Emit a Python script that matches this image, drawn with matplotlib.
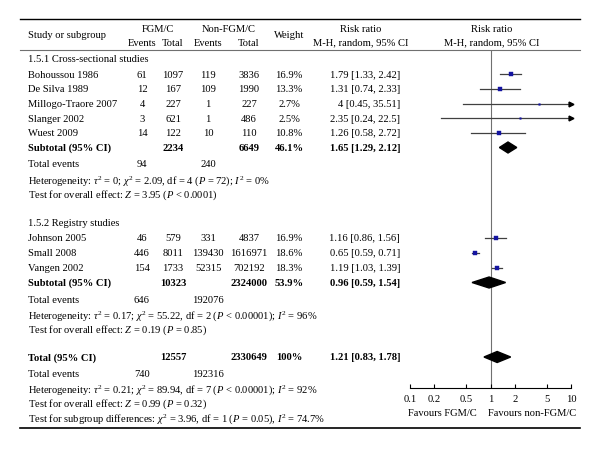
import matplotlib
matplotlib.use("Agg")
import matplotlib.pyplot as plt

plt.rcParams['font.family'] = ['Liberation Serif', 'DejaVu Serif']
plt.rcParams['mathtext.fontset'] = 'custom'
plt.rcParams['mathtext.rm'] = 'Liberation Serif'
plt.rcParams['mathtext.it'] = 'Liberation Serif:italic'
plt.rcParams['mathtext.bf'] = 'Liberation Serif:bold'

# ---------------- data ----------------
studies1 = ['Bohoussou 1986', 'De Silva 1989', 'Millogo-Traore 2007', 'Slanger 2002', 'Wuest 2009']
ev1 = [61, 12, 4, 3, 14]
tot1 = [1097, 167, 227, 621, 122]
nev1 = [119, 109, 1, 1, 10]
ntot1 = [3836, 1990, 227, 486, 110]
w1 = [16.9, 13.3, 2.7, 2.5, 10.8]
rr1 = [1.79, 1.31, 4, 2.35, 1.26]
lo1 = [1.33, 0.74, 0.45, 0.24, 0.58]
hi1 = [2.42, 2.33, 35.51, 22.5, 2.72]
sub1 = dict(tot=2234, ntot=6649, w=46.1, rr=1.65, lo=1.29, hi=2.12, ev=94, nev=240)

studies2 = ['Johnson 2005', 'Small 2008', 'Vangen 2002']
ev2 = [46, 446, 154]
tot2 = [579, 8011, 1733]
nev2 = [331, 139430, 52315]
ntot2 = [4837, 1616971, 702192]
w2 = [16.9, 18.6, 18.3]
rr2 = [1.16, 0.65, 1.19]
lo2 = [0.86, 0.59, 1.03]
hi2 = [1.56, 0.71, 1.39]
sub2 = dict(tot=10323, ntot=2324000, w=53.9, rr=0.96, lo=0.59, hi=1.54, ev=646, nev=192076)

total = dict(tot=12557, ntot=2330649, w=100, rr=1.21, lo=0.83, hi=1.78, ev=740, nev=192316)

het1 = r'Heterogeneity: $\tau^2$ = 0; $\chi^2$ = 2.09, df = 4 ($P$ = 72); $I^2$ = 0%'
eff1 = r'Test for overall effect: $Z$ = 3.95 ($P$ < 0.0001)'
het2 = r'Heterogeneity: $\tau^2$ = 0.17; $\chi^2$ = 55.22, df = 2 ($P$ < 0.00001); $I^2$ = 96%'
eff2 = r'Test for overall effect: $Z$ = 0.19 ($P$ = 0.85)'
het3 = r'Heterogeneity: $\tau^2$ = 0.21; $\chi^2$ = 89.94, df = 7 ($P$ < 0.00001); $I^2$ = 92%'
eff3 = r'Test for overall effect: $Z$ = 0.99 ($P$ = 0.32)'
subdiff = r'Test for subgroup differences: $\chi^2$ = 3.96, df = 1 ($P$ = 0.05), $I^2$ = 74.7%'

ticks = [0.1, 0.2, 0.5, 1, 2, 5, 10]
tick_labels = ['0.1', '0.2', '0.5', '1', '2', '5', '10']

# ---------------- layout ----------------
FS = 7.6
BLUE = '#1414a0'
W, H = 600, 452
fig = plt.figure(figsize=(6, 4.52), dpi=100)
bg = fig.add_axes([0, 0, 1, 1])
bg.set_xlim(0, W)
bg.set_ylim(H, 0)
bg.axis('off')

AX_TOP, AX_BOT, AX_L, AX_R = 51, 389, 410, 571
ax = fig.add_axes([AX_L / W, (H - AX_BOT) / H, (AX_R - AX_L) / W, (AX_BOT - AX_TOP) / H])
ax.set_xscale('log')
ax.set_xlim(0.1, 10)
ax.set_ylim(AX_BOT, AX_TOP)
ax.patch.set_alpha(0)
for s in ['top', 'left', 'right']:
    ax.spines[s].set_visible(False)
ax.spines['bottom'].set_linewidth(0.8)
ax.set_yticks([])
ax.set_xticks(ticks)
ax.set_xticklabels(tick_labels)
ax.minorticks_off()
ax.tick_params(axis='x', direction='in', length=3, width=0.8, pad=4, labelsize=FS)
ax.axvline(1, color='#707070', lw=0.8, zorder=1)

X_STUDY, X_EV, X_TOT, X_NEV, X_NTOT, X_W, X_CI = 28, 142, 173, 208, 249, 289, 400


def txt(x, y, s, ha='left', bold=False, size=FS):
    bg.text(x, y, s, ha=ha, va='center', fontsize=size,
            fontweight='bold' if bold else 'normal')


def ci_str(r, l, h):
    return f'{r:g} [{l:g}, {h:g}]'


# header
bg.plot([20, 580], [20, 20], color='black', lw=1.0)
bg.plot([20, 580], [51, 51], color='#707070', lw=0.8)
bg.plot([20, 580], [429, 429], color='black', lw=1.2)
txt(X_STUDY, 36, 'Study or subgroup')
txt((X_EV + X_TOT) / 2, 30, 'FGM/C', ha='center')
txt(X_EV, 43, 'Events', ha='center')
txt(X_TOT, 43, 'Total', ha='center')
txt((X_NEV + X_NTOT) / 2, 30, 'Non-FGM/C', ha='center')
txt(X_NEV, 43, 'Events', ha='center')
txt(X_NTOT, 43, 'Total', ha='center')
txt(X_W, 36, 'Weight', ha='center')
txt(361, 30, 'Risk ratio', ha='center')
txt(361, 43, 'M-H, random, 95% CI', ha='center')
txt(492, 30, 'Risk ratio', ha='center')
txt(492, 43, 'M-H, random, 95% CI', ha='center')


def study_rows(names, ev, tot, nev, ntot, w, rr, lo, hi, ys):
    for i, y in enumerate(ys):
        txt(X_STUDY, y, names[i])
        txt(X_EV, y, str(ev[i]), ha='center')
        txt(X_TOT, y, str(tot[i]), ha='center')
        txt(X_NEV, y, str(nev[i]), ha='center')
        txt(X_NTOT, y, str(ntot[i]), ha='center')
        txt(X_W, y, f'{w[i]:.1f}%', ha='center')
        txt(X_CI, y, ci_str(rr[i], lo[i], hi[i]), ha='right')
        right = min(hi[i], 10)
        left = max(lo[i], 0.1)
        ax.plot([left, right], [y, y], color='#404040', lw=0.9, clip_on=False, zorder=2)
        if hi[i] > 10:
            ax.plot(10, y, marker='>', ms=3.5, color='black', clip_on=False, zorder=3)
        side = 1.0 * (w[i] ** 0.5)
        ax.plot(rr[i], y, marker='s', ms=side * 0.72, color=BLUE, mec=BLUE,
                mew=0.3, clip_on=False, zorder=4)


def summary_row(label, d, y, pct):
    txt(X_STUDY, y, label, bold=True)
    txt(X_TOT, y, str(d['tot']), ha='center', bold=True)
    txt(X_NTOT, y, str(d['ntot']), ha='center', bold=True)
    txt(X_W, y, pct, ha='center', bold=True)
    txt(X_CI, y, ci_str(d['rr'], d['lo'], d['hi']), ha='right', bold=True)
    h = 5.5
    ax.fill([d['lo'], d['rr'], d['hi'], d['rr']], [y, y - h, y, y + h],
            color='black', zorder=5, clip_on=False)


# subgroup 1
txt(X_STUDY, 60, '1.5.1 Cross-sectional studies')
study_rows(studies1, ev1, tot1, nev1, ntot1, w1, rr1, lo1, hi1, [75, 90, 104.5, 119, 134])
summary_row('Subtotal (95% CI)', sub1, 148.5, f"{sub1['w']:.1f}%")
txt(X_STUDY, 165, 'Total events')
txt(X_EV, 165, str(sub1['ev']), ha='center')
txt(X_NEV, 165, str(sub1['nev']), ha='center')
txt(X_STUDY, 181, het1)
txt(X_STUDY, 195.5, eff1)

# subgroup 2
txt(X_STUDY, 224, '1.5.2 Registry studies')
study_rows(studies2, ev2, tot2, nev2, ntot2, w2, rr2, lo2, hi2, [239, 254, 269])
summary_row('Subtotal (95% CI)', sub2, 283.5, f"{sub2['w']:.1f}%")
txt(X_STUDY, 300.5, 'Total events')
txt(X_EV, 300.5, str(sub2['ev']), ha='center')
txt(X_NEV, 300.5, str(sub2['nev']), ha='center')
txt(X_STUDY, 316, het2)
txt(X_STUDY, 330.5, eff2)

# total
summary_row('Total (95% CI)', total, 358, f"{total['w']}%")
txt(X_STUDY, 375, 'Total events')
txt(X_EV, 375, str(total['ev']), ha='center')
txt(X_NEV, 375, str(total['nev']), ha='center')
txt(X_STUDY, 390, het3)
txt(X_STUDY, 404.5, eff3)
txt(X_STUDY, 419.5, subdiff)

txt(477, 414, 'Favours FGM/C', ha='right')
txt(488, 414, 'Favours non-FGM/C', ha='left')

fig.savefig('out.png', dpi=100)
